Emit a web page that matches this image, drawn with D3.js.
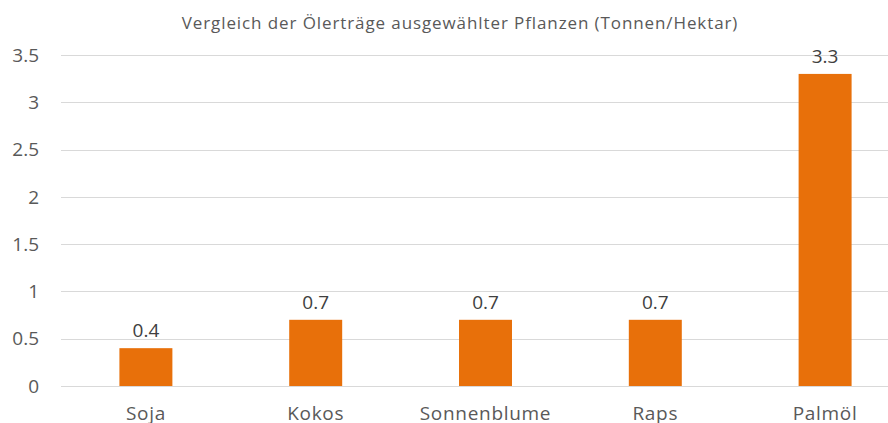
<!DOCTYPE html>
<html>
<head>
<meta charset="utf-8">
<script src="https://cdn.jsdelivr.net/npm/d3@7"></script>
<style>
  body { margin: 0; background: #fff; }
  svg { display: block; font-family: "Open Sans", "Noto Sans", sans-serif; }
</style>
</head>
<body>
<div id="chart"></div>
<script>
// Chart data
var categories = ["Soja", "Kokos", "Sonnenblume", "Raps", "Palmöl"];
var yields = [0.4, 0.7, 0.7, 0.7, 3.3];
var yTicks = [0, 0.5, 1, 1.5, 2, 2.5, 3, 3.5];
var yTickLabels = ["0", "0.5", "1", "1.5", "2", "2.5", "3", "3.5"];
var chartTitle = "Vergleich der Ölerträge ausgewählter Pflanzen (Tonnen/Hektar)";

var width = 888, height = 423;
var plotLeft = 61, plotRight = 910, plotTop = 55, plotBottom = 386;

var svg = d3.select("#chart")
  .append("svg")
  .attr("width", width)
  .attr("height", height);

// Scales
var xScale = d3.scaleBand()
  .domain(categories)
  .range([plotLeft, plotRight])
  .paddingInner(0.688)
  .paddingOuter(0.344);

var yScale = d3.scaleLinear()
  .domain([0, 3.5])
  .range([plotBottom, plotTop]);

// Gridlines
svg.append("g")
  .selectAll("line")
  .data(yTicks)
  .enter()
  .append("line")
  .attr("x1", plotLeft)
  .attr("x2", width)
  .attr("y1", function (d) { return Math.round(yScale(d)) + 0.5; })
  .attr("y2", function (d) { return Math.round(yScale(d)) + 0.5; })
  .attr("stroke", "#d9d9d9")
  .attr("stroke-width", 1);

// Y axis labels
svg.append("g")
  .selectAll("text")
  .data(yTicks)
  .enter()
  .append("text")
  .attr("x", 39)
  .attr("y", function (d) { return yScale(d); })
  .attr("dy", "0.35em")
  .attr("text-anchor", "end")
  .attr("fill", "#595959")
  .style("font-size", "19px")
  .text(function (d, i) { return yTickLabels[i]; });

// Bars
svg.append("g")
  .selectAll("rect")
  .data(yields)
  .enter()
  .append("rect")
  .attr("x", function (d, i) { return xScale(categories[i]); })
  .attr("y", function (d) { return yScale(d); })
  .attr("width", xScale.bandwidth())
  .attr("height", function (d) { return plotBottom - yScale(d); })
  .attr("fill", "#e8700a");

// Value labels
svg.append("g")
  .selectAll("text")
  .data(yields)
  .enter()
  .append("text")
  .attr("x", function (d, i) { return xScale(categories[i]) + xScale.bandwidth() / 2; })
  .attr("y", function (d) { return yScale(d) - 11; })
  .attr("text-anchor", "middle")
  .attr("fill", "#404040")
  .style("font-size", "19px")
  .text(function (d) { return d; });

// Category labels
svg.append("g")
  .selectAll("text")
  .data(categories)
  .enter()
  .append("text")
  .attr("x", function (d) { return xScale(d) + xScale.bandwidth() / 2; })
  .attr("y", 420)
  .attr("text-anchor", "middle")
  .attr("fill", "#595959")
  .style("font-size", "19px")
  .style("letter-spacing", "0.7px")
  .text(function (d) { return d; });

// Title
svg.append("text")
  .attr("x", 460)
  .attr("y", 29)
  .attr("text-anchor", "middle")
  .attr("fill", "#595959")
  .style("font-size", "17px")
  .style("letter-spacing", "0.9px")
  .text(chartTitle);
</script>
</body>
</html>
